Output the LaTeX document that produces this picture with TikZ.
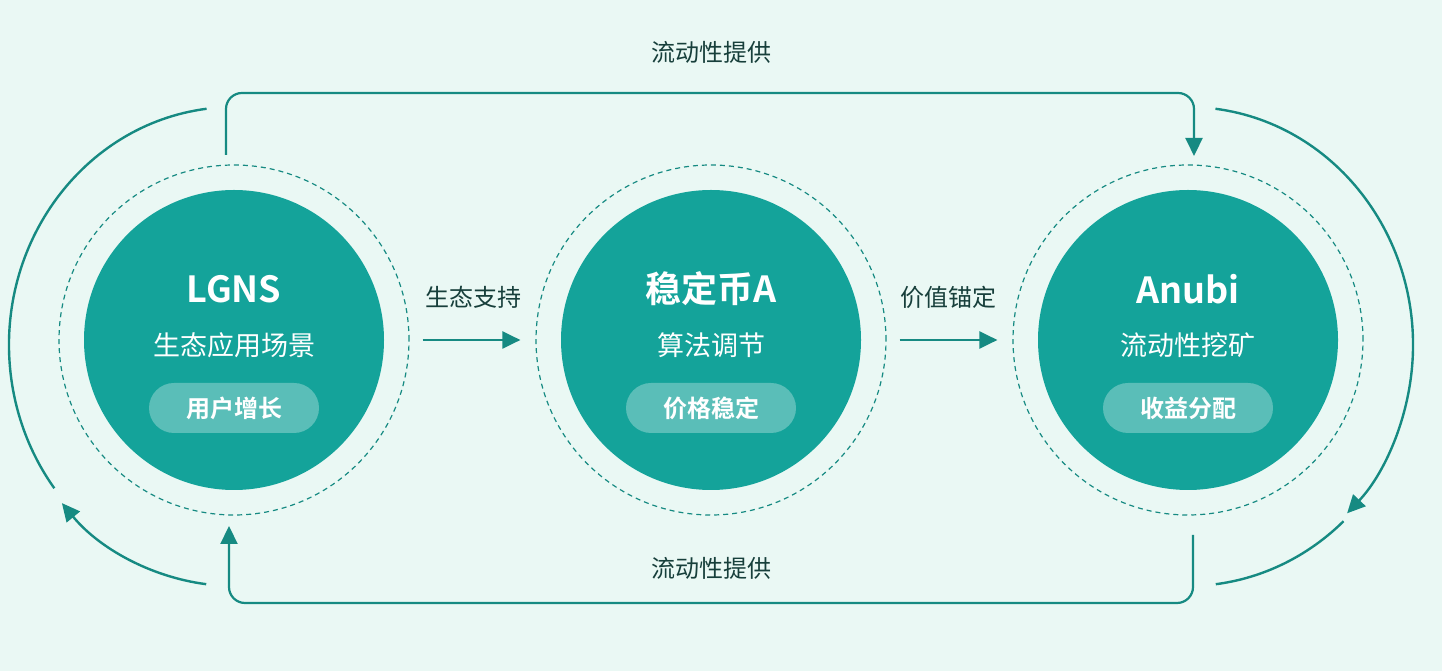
\documentclass[tikz,border=0pt]{standalone}
\usepackage{fontspec}
\setmainfont{Noto Sans CJK SC}[BoldFont={Noto Sans CJK SC Bold}]
\usepackage{tikz}
\usetikzlibrary{arrows.meta,calc,positioning}
\definecolor{bgmint}{HTML}{EAF8F4}
\definecolor{hubteal}{HTML}{14A39A}
\definecolor{lineteal}{HTML}{168A82}
\definecolor{labelink}{HTML}{173F3B}

\begin{document}
\begin{tikzpicture}[x=1pt,y=1pt]
\tikzstyle{hub} = [circle, fill=hubteal, minimum size=300pt, inner sep=0pt]
\tikzstyle{ring} = [circle, draw=lineteal, line width=1.2pt, dash pattern=on 5pt off 4pt, minimum size=350pt, inner sep=0pt]
\tikzstyle{pill} = [rounded corners=25pt, minimum width=170pt, minimum height=50pt, fill=white, fill opacity=0.3, text opacity=1, text=white, font=\bfseries\fontsize{24}{28}\selectfont]
\tikzstyle{flow} = [draw=lineteal, line width=2.2pt, -{Triangle[length=18pt,width=17pt]}]
\tikzstyle{lbl} = [text=labelink, font=\fontsize{24}{28}\selectfont]
\fill[bgmint] (0,0) rectangle (1442,671);
\useasboundingbox (0,0) rectangle (1442,671);
% centres
\coordinate (L) at (234,331);
\coordinate (M) at (711,331);
\coordinate (R) at (1188,331);
\coordinate (Lo) at (234,326);
\coordinate (Ro) at (1188,326);
% the three hubs
\foreach \c/\n in {L/hL, M/hM, R/hR}{
  \node[ring] (r\n) at (\c) {};
  \node[hub] (\n) at (\c) {};
}
\node[text=white, font=\bfseries\fontsize{36}{40}\selectfont] (tL) at (234,382) {LGNS};
\node[text=white, font=\fontsize{27}{30}\selectfont] (sL) at (234,326) {生态应用场景};
\node[pill] (pL) at (234,263) {用户增长};
\node[text=white, font=\bfseries\fontsize{36}{40}\selectfont] (tM) at (711,382) {稳定币A};
\node[text=white, font=\fontsize{27}{30}\selectfont] (sM) at (711,326) {算法调节};
\node[pill] (pM) at (711,263) {价格稳定};
\node[text=white, font=\bfseries\fontsize{36}{40}\selectfont] (tR) at (1188,382) {Anubi};
\node[text=white, font=\fontsize{27}{30}\selectfont] (sR) at (1188,326) {流动性挖矿};
\node[pill] (pR) at (1188,263) {收益分配};
% middle links
\draw[flow, shorten <=13pt, shorten >=15pt] (rhL) -- (rhM);
\draw[flow, shorten <=13pt, shorten >=15pt] (rhM) -- (rhR);
\node[lbl] (a1) at (473,374) {生态支持};
\node[lbl] (a2) at (948,374) {价值锚定};
% liquidity loop
\coordinate (t1) at (226,516);
\coordinate (t2) at (1194,515);
\coordinate (b1) at (1193,136);
\coordinate (b2) at (229,145);
\draw[flow, rounded corners=16pt] (t1) -- (226,578) -- (1194,578) -- (t2);
\draw[flow, rounded corners=16pt] (b1) -- (1193,68) -- (229,68) -- (b2);
\node[lbl] (f1) at (711,619) {流动性提供};
\node[lbl] (f2) at (711,103) {流动性提供};
% outer arcs
\draw[lineteal, line width=2.4pt] ($(Lo)+(97:225 and 238)$) arc[start angle=97, end angle=217, x radius=225, y radius=238];
\draw[flow, line width=2.4pt] ($(Lo)+(263:228 and 241)$) arc[start angle=263, end angle=221, x radius=228, y radius=241];
\draw[flow, line width=2.4pt] ($(Ro)+(83:225 and 238)$) arc[start angle=83, end angle=-45, x radius=225, y radius=238];
\draw[lineteal, line width=2.4pt] ($(Ro)+(-47:228 and 241)$) arc[start angle=-47, end angle=-83, x radius=228, y radius=241];
\end{tikzpicture}
\end{document}
